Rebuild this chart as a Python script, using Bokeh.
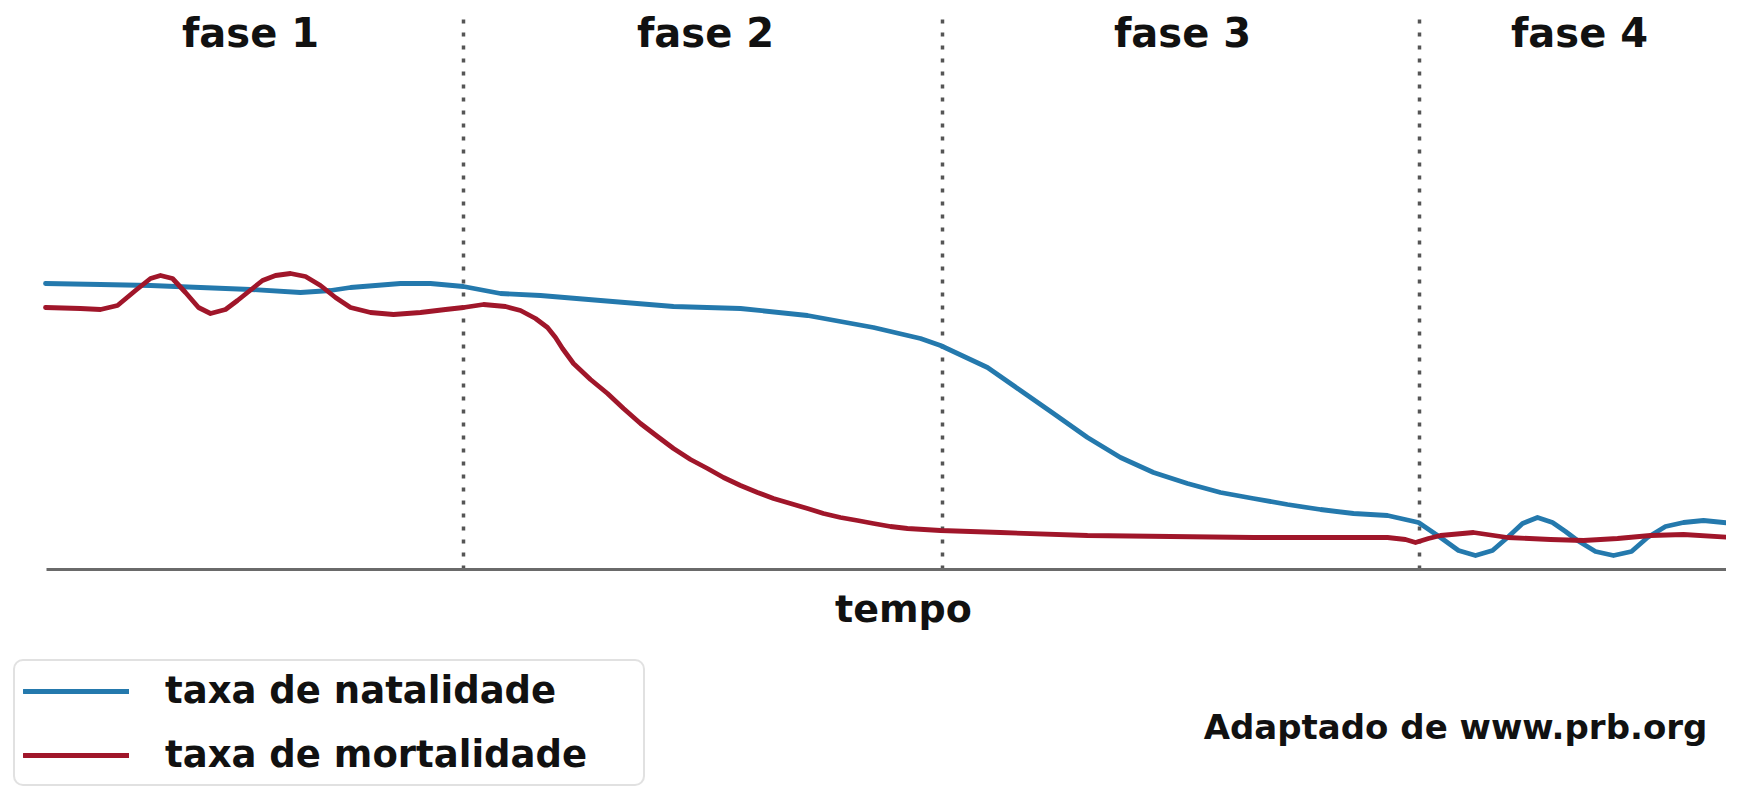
from bokeh.plotting import figure
from bokeh.models import Range1d, Legend, LegendItem
from bokeh.core.properties import value
from bokeh.embed import file_html
from bokeh.resources import INLINE

# ---- data (tempo units ~ horizontal position, rate units above the time axis) ----
natal_t = [45, 100, 150, 200, 250, 300, 330, 350, 400, 430, 463, 500, 540, 600, 673, 740, 807, 873,
           920, 940, 987, 1020, 1053, 1087, 1120, 1153, 1187, 1220, 1253, 1287, 1320, 1353, 1387,
           1418, 1440, 1458, 1475, 1492, 1507, 1522, 1537, 1552, 1565, 1577, 1595, 1613, 1631, 1647,
           1665, 1683, 1703, 1733]
natal_r = [286, 285, 284, 282, 280, 277, 279, 282, 286, 286, 283, 276, 274, 269, 263, 261, 254, 242,
           231, 224, 202, 179, 156, 132, 112, 97, 86, 77, 71, 65, 60, 56, 54,
           47, 32, 19, 14, 19, 32, 46, 52, 47, 38, 29, 18, 14, 18, 32,
           43, 47, 49, 46]

mort_t = [45, 80, 100, 117, 135, 150, 160, 172, 185, 198, 210, 225, 237, 247, 262, 275, 290, 305, 320,
          335, 350, 370, 393, 420, 445, 463, 483, 505, 520, 535, 547, 555, 562, 573, 590, 607, 623, 640,
          657, 673, 690, 707, 723, 740, 757, 773, 790, 807, 823, 840, 857, 873, 890, 907, 940, 1000,
          1087, 1170, 1253, 1320, 1387, 1405, 1415, 1428, 1440, 1473, 1507, 1550, 1583, 1617, 1650,
          1683, 1733]
mort_r = [262, 261, 260, 264, 279, 291, 294, 291, 277, 262, 256, 260, 269, 277, 289, 294, 296, 293, 284,
          272, 262, 257, 255, 257, 260, 262, 265, 263, 259, 251, 242, 232, 221, 206, 190, 176, 161, 146,
          133, 121, 110, 101, 92, 84, 77, 71, 66, 61, 56, 52, 49, 46, 43, 41, 39, 37,
          34, 33, 32, 32, 32, 30, 27, 31, 34, 37, 32, 30, 29, 31, 34,
          35, 32]

phase_names = ["fase 1", "fase 2", "fase 3", "fase 4"]
phase_centers = [250, 705, 1182, 1579]
phase_bounds = [463, 942, 1419]
time_start, time_end = 46, 1735
label_top = 537          # baseline of the phase names
bound_top = 556          # top of the dotted separators

series_labels = ["taxa de natalidade", "taxa de mortalidade"]
axis_title = "tempo"
source_note = "Adaptado de www.prb.org"

BLUE = "#2479ad"
RED = "#a0162a"
INK = "#111111"
FONT = "DejaVu Sans"

p = figure(width=1726, height=786, output_backend="svg", toolbar_location=None,
           x_range=Range1d(0, 1726), y_range=Range1d(-217, 569),
           x_axis_type=None, y_axis_type=None, min_border=0)
p.outline_line_color = None
p.grid.visible = False
p.background_fill_color = "white"

# phase separators
p.segment(x0=phase_bounds, x1=phase_bounds, y0=[0] * len(phase_bounds), y1=[bound_top] * len(phase_bounds),
          line_color="#555555", line_width=3.5, line_dash="4 9")

# time axis
p.segment(x0=[time_start], x1=[time_end], y0=[0], y1=[0], line_color="#6a6a6a", line_width=3)

# curves
r_blue = p.line(natal_t, natal_r, line_color=BLUE, line_width=4.8, line_join="round", line_cap="round")
r_red = p.line(mort_t, mort_r, line_color=RED, line_width=4.8, line_join="round", line_cap="round")

# phase names
p.text(x=phase_centers, y=[label_top] * 4, text=phase_names, text_align="center",
       text_baseline="alphabetic", text_font=value(FONT), text_font_style="bold",
       text_font_size="40px", text_color=INK)

# axis title and source
p.text(x=[903], y=[-39], text=[axis_title], text_align="center", text_baseline="alphabetic",
       text_font=value(FONT), text_font_style="bold", text_font_size="38px", text_color=INK)
p.text(x=[1455], y=[-157], text=[source_note], text_align="center", text_baseline="alphabetic",
       text_font=value(FONT), text_font_style="bold", text_font_size="34px", text_color=INK)

legend = Legend(items=[LegendItem(label=series_labels[0], renderers=[r_blue]),
                       LegendItem(label=series_labels[1], renderers=[r_red])],
                location=(13, 0))
legend.label_text_font = FONT
legend.label_text_font_style = "bold"
legend.label_text_font_size = "37px"
legend.label_text_color = INK
legend.glyph_width = 106
legend.label_standoff = 36
legend.padding = 8
legend.spacing = 21
legend.label_width = 470
legend.border_line_color = "#c4c4c4"
legend.border_line_width = 2.5
legend.background_fill_color = "white"
legend.background_fill_alpha = 1.0
if "border_radius" in Legend.properties():
    legend.border_radius = 10
p.add_layout(legend)

open("out.html", "w").write(file_html(p, INLINE))
